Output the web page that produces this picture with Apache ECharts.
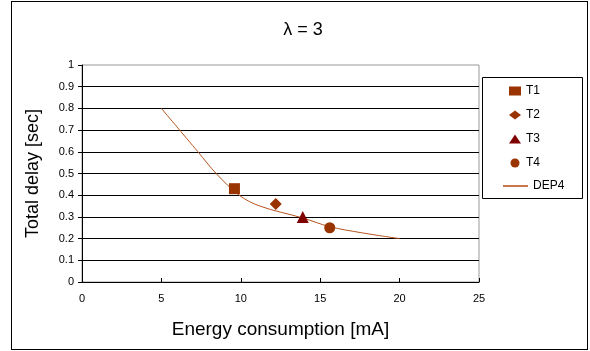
<!DOCTYPE html>
<html>
<head>
<meta charset="utf-8">
<script src="https://cdn.jsdelivr.net/npm/echarts@6/dist/echarts.min.js"></script>
<style>
html,body{margin:0;padding:0;background:#fff;}
#frame{position:absolute;left:11px;top:1px;width:577px;height:349px;border:1px solid #000;box-sizing:border-box;}
#chart{position:absolute;left:0;top:0;width:590px;height:351px;}
</style>
</head>
<body>
<div id="frame"></div>
<div id="chart"></div>
<script>
const titleText = "λ = 3";
const xName = "Energy consumption [mA]";
const yName = "Total delay [sec]";
const t1 = [[9.6, 0.43]];
const t2 = [[12.2, 0.36]];
const t3 = [[13.9, 0.30]];
const t4 = [[15.6, 0.25]];
const dep4 = [[5, 0.8], [7.3, 0.6], [8.45, 0.5], [9.9, 0.4], [11.2, 0.35], [13.9, 0.295], [15.6, 0.255], [17.6, 0.227], [20, 0.2]];

const chart = echarts.init(document.getElementById('chart'), null, {renderer: 'canvas'});
const font = "'Liberation Sans', Arial, sans-serif";
const legText = {fontFamily: font, fontSize: 12, color: '#000', lineHeight: 14};
chart.setOption({
  animation: false,
  title: {
    text: titleText, left: 298, top: 16, textAlign: 'center',
    textStyle: {fontFamily: font, fontSize: 18, fontWeight: 'normal', color: '#000'}
  },
  graphic: [{
    type: 'rect', left: 482, top: 77, z: -1,
    shape: {width: 100, height: 121},
    style: {fill: '#fff', stroke: '#000', lineWidth: 1}
  }],
  grid: {left: 82, right: 111, top: 65, bottom: 69, show: true, borderColor: '#999', borderWidth: 1},
  legend: [{
    orient: 'vertical', left: 509, top: 84,
    padding: 0,
    itemWidth: 12, itemHeight: 9, itemGap: 10,
    textStyle: legText,
    data: ['T1', 'T2', 'T3', 'T4']
  }, {
    orient: 'vertical', left: 503, top: 179,
    padding: 0,
    itemWidth: 25, itemHeight: 2, itemGap: 10,
    icon: 'rect',
    textStyle: legText,
    data: ['DEP4']
  }],
  xAxis: {
    type: 'value', min: 0, max: 25, interval: 5,
    name: xName, nameLocation: 'middle', nameGap: 38,
    nameTextStyle: {fontFamily: font, fontSize: 19, color: '#000'},
    axisLine: {show: true, lineStyle: {color: '#000', width: 1}},
    axisTick: {show: true, inside: true, length: 4, lineStyle: {color: '#000'}},
    axisLabel: {fontFamily: font, fontSize: 11, color: '#000', margin: 11},
    splitLine: {show: false}
  },
  yAxis: {
    type: 'value', min: 0, max: 1, interval: 0.1,
    name: yName, nameLocation: 'middle', nameGap: 40, nameRotate: 90,
    nameTextStyle: {fontFamily: font, fontSize: 18, color: '#000'},
    axisLine: {show: true, lineStyle: {color: '#000', width: 1}},
    axisTick: {show: true, inside: false, length: 4, lineStyle: {color: '#000'}},
    axisLabel: {fontFamily: font, fontSize: 11, color: '#000', margin: 8},
    splitLine: {show: true, showMaxLine: false, lineStyle: {color: '#000', width: 1}}
  },
  series: [
    {name: 'T1', type: 'scatter', symbol: 'rect', symbolSize: 11, data: t1, itemStyle: {color: '#993300', opacity: 1}, z: 5},
    {name: 'T2', type: 'scatter', symbol: 'diamond', symbolSize: 12, data: t2, itemStyle: {color: '#993300', opacity: 1}, z: 5},
    {name: 'T3', type: 'scatter', symbol: 'triangle', symbolSize: 12, data: t3, itemStyle: {color: '#800000', opacity: 1}, z: 5},
    {name: 'T4', type: 'scatter', symbol: 'circle', symbolSize: 11, data: t4, itemStyle: {color: '#993300', opacity: 1}, z: 5},
    {name: 'DEP4', type: 'line', smooth: 0.35, showSymbol: false, symbol: 'none', data: dep4,
     lineStyle: {color: '#B5531E', width: 1}, itemStyle: {color: '#C8764A'}, z: 3}
  ]
});
</script>
</body>
</html>
